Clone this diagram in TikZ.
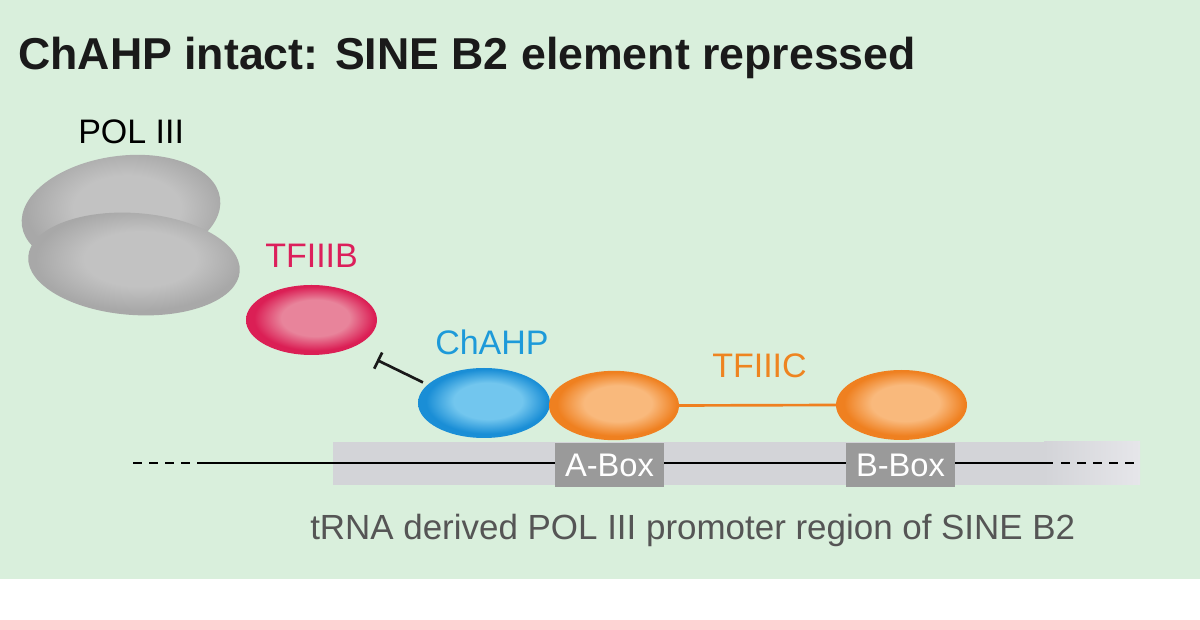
\documentclass[tikz,border=0pt]{standalone}
\usepackage{fontspec}
\setmainfont{Liberation Sans}
\usetikzlibrary{shapes.geometric,arrows.meta}
\definecolor{bggreen}{HTML}{D9EFDC}
\definecolor{bgpink}{HTML}{FDD3D3}
\definecolor{band}{HTML}{D3D4D8}
\definecolor{bandlight}{HTML}{E6E6EA}
\definecolor{boxgray}{HTML}{9A9A9A}
\definecolor{titlecol}{HTML}{1A1A1A}
\definecolor{redtxt}{HTML}{DC1F5B}
\definecolor{bluetxt}{HTML}{1D9AD9}
\definecolor{orangetxt}{HTML}{EE8420}
\definecolor{captcol}{HTML}{555555}
\definecolor{grayin}{HTML}{C2C2C2}
\definecolor{grayout}{HTML}{A8A8A8}
\definecolor{redin}{HTML}{E8849B}
\definecolor{redout}{HTML}{DB1F55}
\definecolor{bluein}{HTML}{72C6EE}
\definecolor{blueout}{HTML}{1A8ED6}
\definecolor{orangein}{HTML}{F9B97C}
\definecolor{orangeout}{HTML}{EF8020}
\pgfdeclareradialshading{grayblob}{\pgfpoint{2bp}{2bp}}{color(0bp)=(grayin); color(13bp)=(grayin); color(24bp)=(grayout); color(50bp)=(grayout)}
\pgfdeclareradialshading{redblob}{\pgfpoint{2bp}{2bp}}{color(0bp)=(redin); color(13bp)=(redin); color(23bp)=(redout); color(50bp)=(redout)}
\pgfdeclareradialshading{blueblob}{\pgfpoint{2bp}{2bp}}{color(0bp)=(bluein); color(13bp)=(bluein); color(23bp)=(blueout); color(50bp)=(blueout)}
\pgfdeclareradialshading{orangeblob}{\pgfpoint{2bp}{2bp}}{color(0bp)=(orangein); color(13bp)=(orangein); color(23bp)=(orangeout); color(50bp)=(orangeout)}
\begin{document}
\begin{tikzpicture}[x=0.75pt,y=-0.75pt,
  blob/.style={ellipse, inner sep=0pt, outer sep=0pt},
  lbl/.style={anchor=base west, inner sep=0pt, font=\fontsize{25.5}{30}\selectfont},
  boxlbl/.style={fill=boxgray, text=white, inner sep=0pt, minimum width=81.75pt, minimum height=33pt, font=\fontsize{24.5}{28}\selectfont},
  dna/.style={black, line width=2pt},
  inhib/.style={black!90, line width=2pt, -{Bar[width=13.5pt,line width=2pt]}},
  tfline/.style={orangeout, line width=2pt}
]
% background
\fill[bggreen] (0,0) rectangle (1200,579);
\fill[white] (0,579) rectangle (1200,620);
\fill[bgpink] (0,620) rectangle (1200,630);
\useasboundingbox (0,0) rectangle (1200,630);

% title
\node[anchor=base west, inner sep=0pt, text=titlecol, font=\fontsize{33.5}{40}\selectfont\bfseries] (title) at (18,70) {ChAHP intact: SINE B2 element repressed};

% promoter band
\fill[band] (333,442) rectangle (1045,485);
\shade[left color=band, right color=bandlight] (1044,442) rectangle (1140,485);

% DNA line
\coordinate (dnaLend) at (133,463);
\coordinate (dnaL) at (198,463);
\coordinate (dnaR) at (1053,463);
\coordinate (dnaRdash) at (1061,463);
\coordinate (dnaRend) at (1135,463);
\draw[dna] (dnaL) -- (dnaR);
\draw[dna, dash pattern=on 6.5pt off 5.5pt] (dnaLend) -- (dnaL);
\draw[dna, dash pattern=on 6.5pt off 5.5pt] (dnaRdash) -- (dnaRend);

% boxes
\node[boxlbl] (abox) at (609.5,465) {A-Box};
\node[boxlbl] (bbox) at (900.5,465) {B-Box};

% POL III
\node[blob, shading=grayblob, minimum width=150pt, minimum height=84pt, rotate=8] (polback) at (121,212) {};
\node[blob, shading=grayblob, minimum width=159pt, minimum height=76.5pt, rotate=-4] (polfront) at (134,264) {};
\node[lbl, text=black] (pollbl) at (78,144) {POL III};

% TFIIIB
\node[blob, shading=redblob, minimum width=98.25pt, minimum height=52.5pt] (tfiiib) at (311.5,320) {};
\node[lbl, text=redtxt] (tfiiiblbl) at (265,268) {TFIIIB};

% ChAHP
\node[blob, shading=blueblob, minimum width=99pt, minimum height=52.5pt] (chahp) at (484,403) {};
\node[lbl, text=bluetxt] (chahplbl) at (435,355) {ChAHP};

% TFIIIC
\node[blob, shading=orangeblob, minimum width=97.5pt, minimum height=52pt] (orA) at (614,405.5) {};
\node[blob, shading=orangeblob, minimum width=98.25pt, minimum height=52.5pt] (orB) at (901.5,405) {};
\draw[tfline] (orA.east) -- (orB.west);
\node[lbl, text=orangetxt] (tfiiiclbl) at (712,378) {TFIIIC};

% inhibition
\coordinate (inhend) at (377,360);
\draw[inhib, shorten <=4pt] (chahp.162) -- (inhend);

% caption
\node[anchor=base west, inner sep=0pt, text=captcol, font=\fontsize{26.2}{31}\selectfont] (caption) at (310,540) {tRNA derived POL III promoter region of SINE B2};
\end{tikzpicture}
\end{document}
